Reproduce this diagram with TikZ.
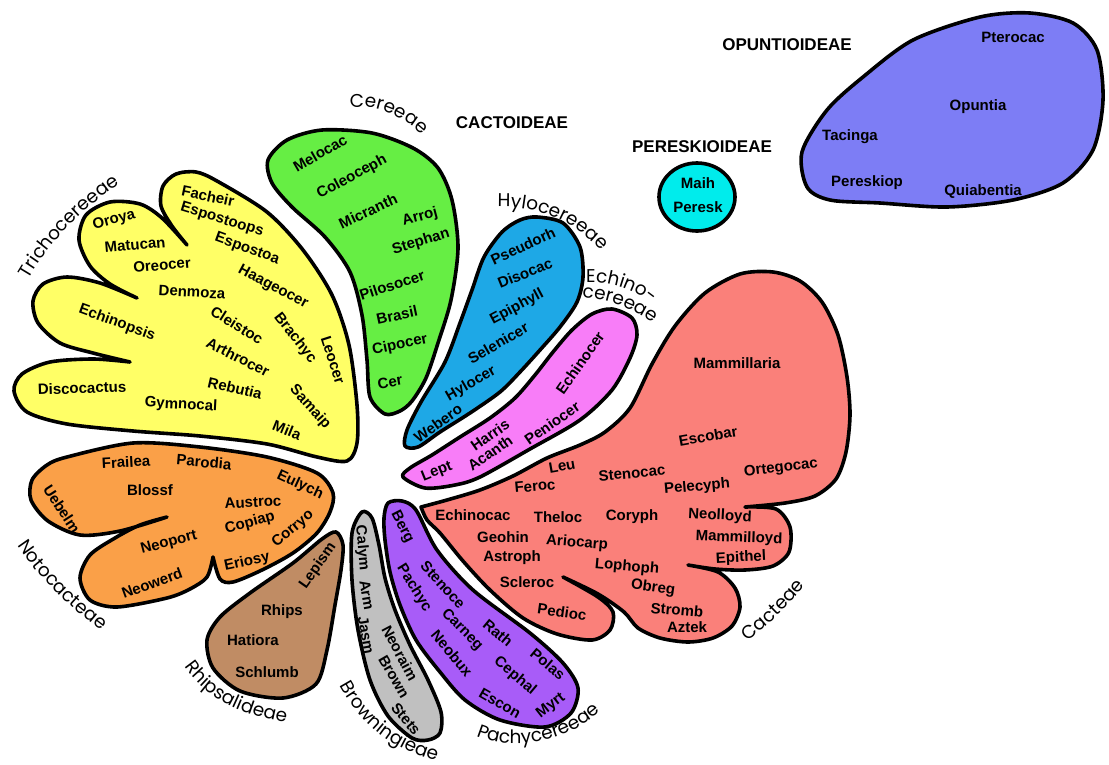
\documentclass[tikz,border=0pt]{standalone}
\usepackage{fontspec}
\setmainfont{Liberation Sans}
\newfontfamily\curvefont{Poppins}
\usetikzlibrary{decorations.text}
\definecolor{cyel}{RGB}{255,255,102}
\definecolor{cgrn}{RGB}{102,238,68}
\definecolor{cblu}{RGB}{30,168,230}
\definecolor{cpnk}{RGB}{248,125,248}
\definecolor{csal}{RGB}{250,128,122}
\definecolor{cpur}{RGB}{168,92,248}
\definecolor{cgry}{RGB}{192,192,192}
\definecolor{cbrn}{RGB}{192,140,100}
\definecolor{corg}{RGB}{250,160,72}
\definecolor{ccyn}{RGB}{0,236,236}
\definecolor{cper}{RGB}{125,125,245}
\tikzset{
  blob/.style={draw=black,line width=3.6pt,line join=round},
  gl/.style={font=\fontsize{15}{15}\selectfont\bfseries,inner sep=0pt},
  hdr/.style={font=\fontsize{17}{17}\selectfont\bfseries,inner sep=0pt},
  curvelbl/.style={decorate,decoration={text along path,text align=center,
     text={|\curvefont\fontsize{18.5}{18.5}\selectfont|#1}}}
}
\begin{document}
\begin{tikzpicture}[x=1pt,y=-1pt]
\useasboundingbox (0,0) rectangle (1109,764);
\fill[white] (0,0) rectangle (1109,764);

% Trichocereeae (yellow)
\filldraw[blob,fill=cyel] plot[smooth] coordinates {(187,245) (172,226) (161,206) (163,186) (176,174) (196,172) (217,181) (267,212) (303,250) (332,295) (349,345) (357,405) (357,443) (347,461) (317,457) (267,444) (200,436) (133,431) (67,424) (27,412) (14,391) (22,374) (50,362) (93,359) (130,362)}
  -- plot[smooth] coordinates {(130,362) (93,353) (60,343) (38,323) (33,301) (43,284) (67,277) (100,283) (137,298)}
  -- plot[smooth] coordinates {(137,298) (110,284) (90,266) (79,240) (86,215) (110,202) (140,204) (162,218) (187,245)} -- cycle;

% Cereeae (green)
\filldraw[blob,fill=cgrn] plot[smooth cycle] coordinates {(385,414) (400,411) (412,401) (426,378) (438,343) (451,300) (458,248) (452,200) (438,168) (413,148) (372,133) (322,130) (287,140) (268,160) (272,183) (292,207) (325,237) (350,272) (362,315) (367,360) (370,397)};

% Hylocereeae (blue)
\filldraw[blob,fill=cblu] plot[smooth cycle] coordinates {(537,217) (563,223) (580,247) (583,277) (577,302) (560,327) (540,350) (520,372) (500,392) (470,413) (440,432) (418,447) (405,446) (407,430) (421,402) (445,362) (460,323) (472,290) (484,257) (502,232) (520,220)};

% Echinocereeae (pink)
\filldraw[blob,fill=cpnk] plot[smooth cycle] coordinates {(403,477) (425,488) (455,485) (480,477) (530,449) (580,420) (612,390) (630,358) (637,335) (632,318) (612,309) (592,314) (572,330) (553,352) (535,375) (515,398) (490,418) (460,437) (432,455) (410,468)};

% Cacteae (salmon)
\filldraw[blob,fill=csal] plot[smooth] coordinates {(421,507) (447,500) (480,490) (513,476) (547,458) (580,445) (605,432) (630,408) (652,364) (675,326) (705,293) (740,274) (773,272) (800,281) (822,302) (838,335) (847,377) (850,415) (846,452) (836,479) (815,496) (785,503) (745,507)}
  -- plot[smooth] coordinates {(745,507) (776,509) (790,527) (789,552) (773,566) (745,570) (715,569) (688,565)}
  -- plot[smooth] coordinates {(688,565) (718,572) (735,588) (740,607) (732,626) (713,638) (688,642) (660,638) (638,628) (624,612) (598,594) (563,577)}
  -- plot[smooth] coordinates {(563,577) (598,597) (613,612) (610,630) (592,640) (557,634) (523,618) (490,590) (463,561) (440,533) (427,520) (421,507)} -- cycle;

% Pachycereeae (purple)
\filldraw[blob,fill=cpur] plot[smooth cycle] coordinates {(388,503) (402,501) (416,510) (437,550) (473,590) (530,633) (563,663) (578,688) (571,713) (545,727) (500,720) (465,700) (440,672) (416,640) (400,605) (390,572) (385,540) (384,518)};

% Browningieae (gray)
\filldraw[blob,fill=cgry] plot[smooth cycle] coordinates {(362,512) (372,518) (379,545) (385,578) (395,610) (410,645) (428,680) (441,712) (440,733) (428,740) (412,738) (388,716) (370,680) (358,630) (352,580) (352,533)};

% Rhipsalideae (brown)
\filldraw[blob,fill=cbrn] plot[smooth cycle] coordinates {(336,532) (343,545) (341,570) (335,605) (327,650) (316,684) (283,698) (240,691) (213,668) (207,640) (220,617) (250,593) (293,563) (322,539)};

% Notocacteae (orange)
\filldraw[blob,fill=corg] plot[smooth] coordinates {(167,517) (120,531) (80,535) (48,521) (31,500) (32,480) (47,465) (67,457) (133,443) (200,447) (267,457) (317,473) (333,493) (330,512) (317,533) (293,553) (262,570) (233,582) (220,579) (213,557)}
  -- plot[smooth] coordinates {(213,557) (207,577) (190,589) (167,598) (117,607) (90,600) (80,578) (90,555) (115,538) (140,525) (167,517)} -- cycle;

% Pereskioideae (cyan)
\filldraw[blob,fill=ccyn] (697,197) ellipse [x radius=38pt,y radius=34pt];

% Opuntioideae (periwinkle)
\filldraw[blob,fill=cper] plot[smooth cycle] coordinates {(802,152) (807,187) (830,200) (880,203) (947,207) (1013,200) (1063,183) (1093,150) (1103,100) (1097,50) (1073,23) (1030,13) (980,17) (913,40) (863,77) (827,110)};

% headers
\node[hdr] (hcact) at (512,123) {CACTOIDEAE};
\node[hdr] (hpere) at (702,147) {PERESKIOIDEAE};
\node[hdr] (hopun) at (787,45) {OPUNTIOIDEAE};

% curved tribe labels
\path[curvelbl={Trichocereeae}] (18,300) .. controls (38,255) and (80,205) .. (140,172);
\path[curvelbl={Cereeae}] (335,110) .. controls (365,102) and (400,108) .. (432,146);
\path[curvelbl={Hylocereeae}] (480,209) .. controls (520,202) and (575,212) .. (612,265);
\path[curvelbl={Echino-}] (572,284) .. controls (600,279) and (635,284) .. (662,314);
\path[curvelbl={cereeae}] (568,297) .. controls (600,297) and (632,304) .. (664,332);
\path[curvelbl={Cacteae}] (724,658) .. controls (758,634) and (790,610) .. (822,562);
\path[curvelbl={Pachycereeae}] (462,728) .. controls (500,755) and (570,748) .. (612,700);
\path[curvelbl={Browningieae}] (335,676) .. controls (355,719) and (389,752) .. (447,763);
\path[curvelbl={Rhipsalideae}] (175,650) .. controls (195,690) and (230,718) .. (305,724);
\path[curvelbl={Notocacteae}] (5,525) .. controls (30,570) and (65,605) .. (120,645);

% yellow genera
\node[gl,rotate=-12] (facheir) at (208,196) {Facheir};
\node[gl,rotate=-17] (espostoops) at (222,220) {Espostoops};
\node[gl,rotate=-20] (espostoa) at (247,249) {Espostoa};
\node[gl,rotate=-28] (haageocer) at (273,287) {Haageocer};
\node[gl,rotate=15] (oroya) at (114,220) {Oroya};
\node[gl,rotate=5] (matucan) at (135,245) {Matucan};
\node[gl,rotate=5] (oreocer) at (162,265) {Oreocer};
\node[gl,rotate=-3] (denmoza) at (192,292) {Denmoza};
\node[gl,rotate=-20] (echinopsis) at (117,323) {Echinopsis};
\node[gl,rotate=-32] (cleistoc) at (237,325) {Cleistoc};
\node[gl,rotate=-52] (brachyc) at (295,338) {Brachyc};
\node[gl,rotate=-72] (leocer) at (333,360) {Leocer};
\node[gl,rotate=-27] (arthrocer) at (238,357) {Arthrocer};
\node[gl,rotate=-13] (rebutia) at (235,388) {Rebutia};
\node[gl,rotate=-48] (samaip) at (310,407) {Samaip};
\node[gl,rotate=2] (discocactus) at (82,388) {Discocactus};
\node[gl,rotate=-3] (gymnocal) at (181,405) {Gymnocal};
\node[gl,rotate=-22] (mila) at (287,430) {Mila};

% green genera
\node[gl,rotate=30] (melocac) at (320,153) {Melocac};
\node[gl,rotate=28] (coleoceph) at (352,177) {Coleoceph};
\node[gl,rotate=25] (micranth) at (368,211) {Micranth};
\node[gl,rotate=15] (arroj) at (420,217) {Arroj};
\node[gl,rotate=17] (stephan) at (421,242) {Stephan};
\node[gl,rotate=18] (pilosocer) at (392,285) {Pilosocer};
\node[gl,rotate=12] (brasil) at (397,315) {Brasil};
\node[gl,rotate=12] (cipocer) at (400,345) {Cipocer};
\node[gl,rotate=10] (cer) at (390,382) {Cer};

% blue genera
\node[gl,rotate=25] (pseudorh) at (523,246) {Pseudorh};
\node[gl,rotate=22] (disocac) at (525,273) {Disocac};
\node[gl,rotate=28] (epiphyll) at (517,307) {Epiphyll};
\node[gl,rotate=30] (selenicer) at (498,343) {Selenicer};
\node[gl,rotate=30] (hylocer) at (471,384) {Hylocer};
\node[gl,rotate=35] (webero) at (438,423) {Webero};

% pink genera
\node[gl,rotate=55] (echinocer) at (580,363) {Echinocer};
\node[gl,rotate=35] (peniocer) at (552,423) {Peniocer};
\node[gl,rotate=35] (harris) at (490,435) {Harris};
\node[gl,rotate=35] (acanth) at (490,453) {Acanth};
\node[gl,rotate=22] (lept) at (437,472) {Lept};

% salmon genera
\node[gl] (mammillaria) at (737,363) {Mammillaria};
\node[gl,rotate=10] (escobar) at (708,436) {Escobar};
\node[gl,rotate=7] (ortegocac) at (781,468) {Ortegocac};
\node[gl,rotate=5] (stenocac) at (632,473) {Stenocac};
\node[gl,rotate=5] (pelecyph) at (697,487) {Pelecyph};
\node[gl,rotate=10] (leu) at (562,466) {Leu};
\node[gl,rotate=5] (feroc) at (535,486) {Feroc};
\node[gl] (echinocac) at (473,515) {Echinocac};
\node[gl] (theloc) at (558,517) {Theloc};
\node[gl] (coryph) at (632,517) {Coryph};
\node[gl,rotate=-3] (neolloyd) at (720,516) {Neolloyd};
\node[gl] (geohin) at (503,537) {Geohin};
\node[gl,rotate=-5] (ariocarp) at (577,543) {Ariocarp};
\node[gl,rotate=-2] (mammilloyd) at (739,538) {Mammilloyd};
\node[gl] (astroph) at (512,558) {Astroph};
\node[gl,rotate=-5] (lophoph) at (627,567) {Lophoph};
\node[gl,rotate=3] (epithel) at (741,558) {Epithel};
\node[gl] (scleroc) at (527,582) {Scleroc};
\node[gl,rotate=-8] (obreg) at (653,588) {Obreg};
\node[gl,rotate=-8] (pedioc) at (562,612) {Pedioc};
\node[gl,rotate=-5] (stromb) at (677,610) {Stromb};
\node[gl] (aztek) at (687,627) {Aztek};

% purple genera
\node[gl,rotate=-63] (berg) at (402,527) {Berg};
\node[gl,rotate=-48] (stenoce) at (443,585) {Stenoce};
\node[gl,rotate=-58] (pachyc) at (414,588) {Pachyc};
\node[gl,rotate=-45] (carneg) at (462,630) {Carneg};
\node[gl,rotate=-40] (rath) at (498,633) {Rath};
\node[gl,rotate=-50] (neobux) at (452,653) {Neobux};
\node[gl,rotate=-40] (polas) at (548,664) {Polas};
\node[gl,rotate=-40] (cephal) at (515,676) {Cephal};
\node[gl,rotate=-30] (escon) at (500,703) {Escon};
\node[gl,rotate=38] (myrt) at (551,706) {Myrt};

% gray genera
\node[gl,rotate=-85] (calym) at (362,548) {Calym};
\node[gl,rotate=-80] (arm) at (367,595) {Arm};
\node[gl,rotate=-80] (jasm) at (366,635) {Jasm};
\node[gl,rotate=-62] (neoraim) at (400,653) {Neoraim};
\node[gl,rotate=-60] (brown) at (394,677) {Brown};
\node[gl,rotate=-50] (stets) at (406,719) {Stets};

% brown genera
\node[gl,rotate=55] (lepism) at (318,566) {Lepism};
\node[gl] (rhips) at (282,612) {Rhips};
\node[gl] (hatiora) at (253,640) {Hatiora};
\node[gl] (schlumb) at (267,672) {Schlumb};

% orange genera
\node[gl,rotate=3] (frailea) at (126,462) {Frailea};
\node[gl,rotate=-5] (parodia) at (204,462) {Parodia};
\node[gl,rotate=-25] (eulych) at (300,485) {Eulych};
\node[gl] (blossf) at (150,490) {Blossf};
\node[gl,rotate=3] (austroc) at (253,502) {Austroc};
\node[gl,rotate=15] (copiap) at (250,523) {Copiap};
\node[gl,rotate=40] (corryo) at (293,529) {Corryo};
\node[gl,rotate=-57] (uebelm) at (62,509) {Uebelm};
\node[gl,rotate=15] (neoport) at (169,543) {Neoport};
\node[gl,rotate=12] (eriosy) at (247,562) {Eriosy};
\node[gl,rotate=20] (neowerd) at (152,583) {Neowerd};

% Pereskioideae genera
\node[gl] (maih) at (698,183) {Maih};
\node[gl] (peresk) at (698,207) {Peresk};

% Opuntioideae genera
\node[gl] (pterocac) at (1013,37) {Pterocac};
\node[gl] (opuntia) at (978,107) {Opuntia};
\node[gl] (tacinga) at (850,137) {Tacinga};
\node[gl] (pereskiop) at (867,183) {Pereskiop};
\node[gl] (quiabentia) at (983,192) {Quiabentia};
\end{tikzpicture}
\end{document}
